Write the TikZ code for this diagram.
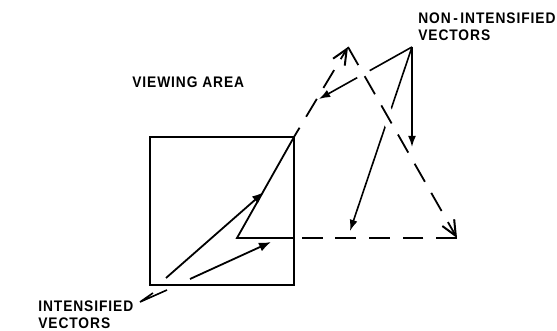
\documentclass[tikz,border=0pt]{standalone}
\usepackage{fontspec}
\newfontfamily\lettering[FakeStretch=0.9,LetterSpace=6]{Liberation Sans}
\usetikzlibrary{arrows.meta,calc}

\begin{document}
\begin{tikzpicture}[x=0.25mm,y=-0.25mm,
  lettering/.style={font=\lettering\bfseries\fontsize{10.9}{11.4}\selectfont,inner sep=0,anchor=north west,align=left},
  vector/.style={line width=0.45mm,line cap=butt,line join=miter},
  onvec/.style={vector,-{Latex[length=3mm,width=2.3mm]}},
  leader/.style={line width=0.4mm,-{Latex[length=2.8mm,width=2mm]}},
  blank/.style={vector,dash pattern=on 5.2mm off 3.2mm},
  blanktip/.style={blank,-{Straight Barb[length=3.8mm,width=3.4mm,line width=0.5mm]}}]
% 557 x 331 px, one unit = one px
\useasboundingbox (0,0) rectangle (557,331);
\coordinate (sqsw) at (150,285);
\coordinate (sqne) at (294,137);
\coordinate (fold) at (237,238);
\coordinate (edge) at (294,238);
\coordinate (peak) at (348,47);
\coordinate (corner) at (457,238);
\coordinate (iva) at (166,278);
\coordinate (ivaend) at (264,192);
\coordinate (ivb) at (190,279);
\coordinate (ivbend) at (271,242);
\coordinate (nivfoot) at (412,47);
\coordinate (niva) at (319,99);
\coordinate (nivb) at (412,147);
\coordinate (nivc) at (350,231);
\coordinate (ivfoot) at (140,302);
\coordinate (ivlega) at (167,290);
\coordinate (ivlegb) at (153,293);
% viewing area
\path[draw,line width=0.7mm,line join=miter] (sqsw) rectangle (sqne);
% labels
\node[lettering] (viewing) at (132,77) {VIEWING AREA};
\node[lettering] (nonint) at (418,13) {NON\,-\,INTENSIFIED\\VECTORS};
\node[lettering] (intens) at (38,301) {INTENSIFIED\\VECTORS};
% leaders
\path[draw,leader] (nivfoot) -- (niva);
\path[draw,leader] (nivfoot) -- (nivb);
\path[draw,leader] (nivfoot) -- (nivc);
\path[draw,line width=0.4mm,line join=miter] (ivlega) -- (ivfoot) -- (ivlegb);
\path[draw=white,line width=3.5mm] ($(peak)!0.08!(corner)$) -- ($(peak)!0.45!(corner)$);
% intensified vectors
\path[draw,onvec] (iva) -- (ivaend);
\path[draw,onvec] (ivb) -- (ivbend);
\path[draw,vector] (edge) -- (fold) -- (sqne);
% non-intensified vectors
\path[draw,blanktip,dash phase=2.5mm] (sqne) -- (peak);
\path[draw,blanktip] (peak) -- (corner);
\path[draw,blank] (corner) -- (edge);
\end{tikzpicture}
\end{document}
